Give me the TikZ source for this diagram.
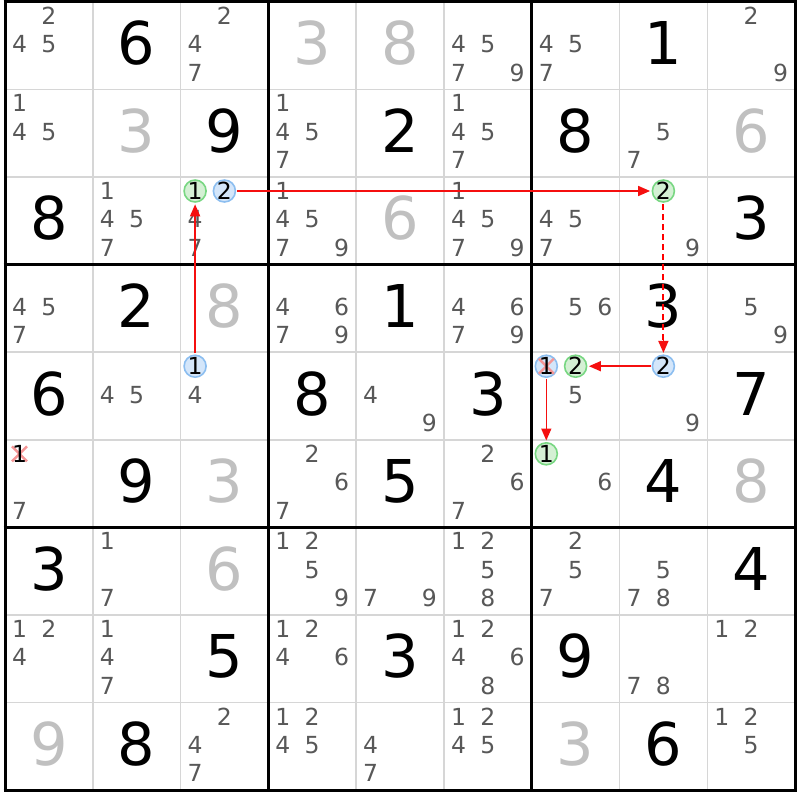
\documentclass[tikz,border=0pt]{standalone}
\usepackage{fontspec}
\setmainfont{DejaVu Sans}
\usetikzlibrary{arrows.meta,calc}
\definecolor{candc}{RGB}{88,88,88}
\definecolor{solvedc}{RGB}{192,192,192}
\definecolor{gridc}{RGB}{214,214,214}
\definecolor{gfill}{RGB}{212,240,212}
\definecolor{gline}{RGB}{120,215,130}
\definecolor{bfill}{RGB}{212,230,250}
\definecolor{bline}{RGB}{140,190,240}
\definecolor{xred}{RGB}{245,150,150}
\definecolor{arrred}{RGB}{245,15,15}
\definecolor{dashred}{RGB}{255,0,0}
\tikzset{
  cand/.style={font=\fontsize{23.5}{23.5}\selectfont, text=candc, inner sep=0pt, text height=17pt, text depth=0pt},
  given/.style={font=\fontsize{59}{59}\selectfont, text=black, inner sep=0pt, text height=43pt, text depth=0pt},
  solved/.style={given, text=solvedc},
  circbase/.style={circle, line width=1.6pt, minimum size=22pt, inner sep=-2pt, font=\fontsize{23.5}{23.5}\selectfont, text=black, text height=17pt, text depth=0pt},
  gcirc/.style={circbase, draw=gline, fill=gfill},
  bcirc/.style={circbase, draw=bline, fill=bfill},
  plaindig/.style={inner sep=0pt, font=\fontsize{23.5}{23.5}\selectfont, text=black, text height=17pt, text depth=0pt},
  xmark/.style={draw=xred, line width=2.4pt},
  gridline/.style={draw=gridc, line width=1.5pt},
  boxline/.style={draw=black, line width=3pt},
  arr/.style={draw=arrred, line width=1.6pt, -{Triangle[length=12pt,width=10pt]}, shorten >=1.5pt, shorten <=1pt},
  dashseg/.style={draw=dashred, line width=2pt, line cap=butt}
}
\newcommand\candset[3]{%
  \foreach \d in {#3}{%
    \pgfmathsetmacro\candX{5+(#2-1)*87.8+14.5+29.3*mod(\d-1,3)}%
    \pgfmathsetmacro\candY{1.8+(#1-1)*87.6+14+28.4*floor((\d-1)/3)}%
    \node[cand] (k-#1-#2-\d) at (\candX,\candY) {\d};
  }}
\newcommand\candpos[4]{% name row col digit
  \pgfmathsetmacro\candX{5+(#3-1)*87.8+14.5+29.3*mod(#4-1,3)}%
  \pgfmathsetmacro\candY{1.8+(#2-1)*87.6+14+28.4*floor((#4-1)/3)}%
  \coordinate (#1) at (\candX,\candY);}
\newcommand\bigset[2]{%
  \foreach \r/\c/\d in {#2}{%
    \node[#1] (b-\r-\c) at ({5+(\c-0.5)*87.8},{1.8+(\r-0.5)*87.6-2.5}) {\d};
  }}
\begin{document}
\begin{tikzpicture}[x=1pt,y=-1pt]
\useasboundingbox (0,0) rectangle (800,800);
\fill[white] (0,0) rectangle (800,800);
% grid
\foreach \i in {1,2,4,5,7,8}{
  \draw[gridline] ({5+\i*87.8},1.8) -- ({5+\i*87.8},790.2);
  \draw[gridline] (5,{1.8+\i*87.6}) -- (795.2,{1.8+\i*87.6});
}
\foreach \i in {0,3,6,9}{
  \draw[boxline] ({5+\i*87.8},0.3) -- ({5+\i*87.8},791.7);
  \draw[boxline] (3.5,{1.8+\i*87.6}) -- (796.7,{1.8+\i*87.6});
}
% big digits
\bigset{given}{1/2/6,1/8/1,2/3/9,2/5/2,2/7/8,3/1/8,3/9/3,4/2/2,4/5/1,4/8/3,5/1/6,5/4/8,5/6/3,5/9/7,6/2/9,6/5/5,6/8/4,7/1/3,7/9/4,8/3/5,8/5/3,8/7/9,9/2/8,9/8/6}
\bigset{solved}{1/4/3,1/5/8,2/2/3,2/9/6,3/5/6,4/3/8,6/3/3,6/9/8,7/3/6,9/1/9,9/7/3}
% candidates
\candset{1}{1}{2,4,5}
\candset{1}{3}{2,4,7}
\candset{1}{6}{4,5,7,9}
\candset{1}{7}{4,5,7}
\candset{1}{9}{2,9}
\candset{2}{1}{1,4,5}
\candset{2}{4}{1,4,5,7}
\candset{2}{6}{1,4,5,7}
\candset{2}{8}{5,7}
\candset{3}{2}{1,4,5,7}
\candset{3}{3}{4,7}
\candset{3}{4}{1,4,5,7,9}
\candset{3}{6}{1,4,5,7,9}
\candset{3}{7}{4,5,7}
\candset{3}{8}{9}
\candset{4}{1}{4,5,7}
\candset{4}{4}{4,6,7,9}
\candset{4}{6}{4,6,7,9}
\candset{4}{7}{5,6}
\candset{4}{9}{5,9}
\candset{5}{2}{4,5}
\candset{5}{3}{4}
\candset{5}{5}{4,9}
\candset{5}{7}{5}
\candset{5}{8}{9}
\candset{6}{1}{7}
\candset{6}{4}{2,6,7}
\candset{6}{6}{2,6,7}
\candset{6}{7}{6}
\candset{7}{2}{1,7}
\candset{7}{4}{1,2,5,9}
\candset{7}{5}{7,9}
\candset{7}{6}{1,2,5,8}
\candset{7}{7}{2,5,7}
\candset{7}{8}{5,7,8}
\candset{8}{1}{1,2,4}
\candset{8}{2}{1,4,7}
\candset{8}{4}{1,2,4,6}
\candset{8}{6}{1,2,4,6,8}
\candset{8}{8}{7,8}
\candset{8}{9}{1,2}
\candset{9}{3}{2,4,7}
\candset{9}{4}{1,2,4,5}
\candset{9}{5}{4,7}
\candset{9}{6}{1,2,4,5}
\candset{9}{9}{1,2,5}
% highlighted candidates
\candpos{pA}{5}{3}{1}
\candpos{pB}{3}{3}{1}
\candpos{pC}{3}{3}{2}
\candpos{pD}{3}{8}{2}
\candpos{pE}{5}{8}{2}
\candpos{pF}{5}{7}{2}
\candpos{pG}{5}{7}{1}
\candpos{pH}{6}{7}{1}
\candpos{pX}{6}{1}{1}
\node[bcirc] (cA) at (pA) {1};
\node[gcirc] (cB) at (pB) {1};
\node[bcirc] (cC) at (pC) {2};
\node[gcirc] (cD) at (pD) {2};
\node[bcirc] (cE) at (pE) {2};
\node[gcirc] (cF) at (pF) {2};
\node[bcirc] (cG) at (pG) {};
\draw[xmark] ([shift={(-7.5,-7.5)}]pG) -- ([shift={(7.5,7.5)}]pG);
\draw[xmark] ([shift={(-7.5,7.5)}]pG) -- ([shift={(7.5,-7.5)}]pG);
\node[plaindig] (dG) at (pG) {1};
\node[gcirc] (cH) at (pH) {1};
\draw[xmark] ([shift={(-7.5,-7.5)}]pX) -- ([shift={(7.5,7.5)}]pX);
\draw[xmark] ([shift={(-7.5,7.5)}]pX) -- ([shift={(7.5,-7.5)}]pX);
\node[plaindig] (dX) at (pX) {1};
% chain arrows
\draw[arr] (cA) -- (cB);
\draw[arr] (cC) -- (cD);
\foreach \i in {0,...,13}{
  \draw[dashseg] ($(cD.south)+(0,{1.5+10*\i})$) -- ++(0,6);
}
\draw[arr, shorten <=0pt] ($(cE.north)+(0,-14)$) -- (cE);
\draw[arr] (cE) -- (cF);
\draw[arr] (cG) -- (cH);
\end{tikzpicture}
\end{document}
